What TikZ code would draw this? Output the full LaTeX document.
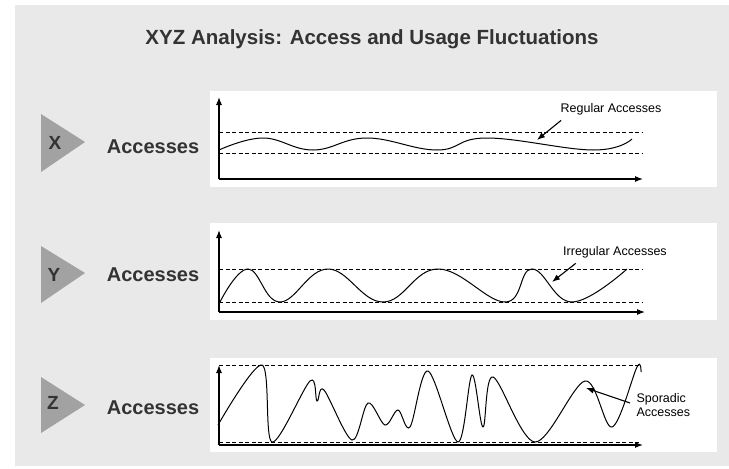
\documentclass[tikz,border=0pt]{standalone}
\usepackage{fontspec}
\setmainfont{Liberation Sans}
\usetikzlibrary{arrows.meta}
\definecolor{panelgrey}{HTML}{E9E9E9}
\definecolor{trigrey}{HTML}{A2A2A2}
\definecolor{textgrey}{HTML}{333333}
\begin{document}
\begin{tikzpicture}[x=1pt,y=-1pt,
    axis/.style={line width=1.1pt,-{Latex[length=8pt,width=6pt]}},
    level/.style={line width=0.9pt,dash pattern=on 4pt off 2.5pt},
    signal/.style={line width=1pt},
    note/.style={font=\fontsize{12.5}{14.5}\selectfont,align=left},
    pointer/.style={line width=1.1pt,-{Latex[length=8pt,width=6pt]}},
    letter/.style={font=\fontsize{19}{21}\selectfont\bfseries,text=textgrey},
    tag/.style={font=\fontsize{20}{22}\selectfont\bfseries,text=textgrey}]
      \useasboundingbox (0,0) rectangle (729,469);
      \fill[white] (0,0) rectangle (729,469);
      \fill[panelgrey] (15,5) rectangle (729,466);

      \node[font=\fontsize{20.5}{22}\selectfont\bfseries, text=textgrey] (title) at (372,39) {XYZ Analysis: Access and Usage Fluctuations};

      % row X
      \fill[trigrey] (41,114) -- (85,142) -- (41,172) -- cycle;
      \node[letter] (lx) at (55,143) {X};
      \node[tag] (ax) at (153,147) {Accesses};
      \fill[white] (210,91) rectangle (717,187);
      \coordinate (ox) at (219,179);
      \coordinate (upx) at (219,97);
      \coordinate (rtx) at (643,179);
      \draw[axis] (ox) -- (upx);
      \draw[axis] (ox) -- (rtx);
      \draw[level] (219,132) -- (642,132);
      \draw[level] (219,153) -- (642,153);
      \draw[signal] plot[smooth, tension=0.7] coordinates {(219,150) (263,138) (313,150) (367,138) (437,150) (487,138) (593,150) (632,139)};
      \node[note] (nx) at (611,109) {Regular Accesses};
      \coordinate (px) at (537,140);
      \draw[pointer] (nx.south west) ++(4,2) -- (px);

      % row Y
      \fill[trigrey] (41,246) -- (85,273) -- (41,303) -- cycle;
      \node[letter] (ly) at (54,275) {Y};
      \node[tag] (ay) at (153,275) {Accesses};
      \fill[white] (210,223) rectangle (717,320);
      \coordinate (oy) at (219,312);
      \coordinate (upy) at (219,230);
      \coordinate (rty) at (645,312);
      \draw[axis] (oy) -- (upy);
      \draw[axis] (oy) -- (rty);
      \draw[level] (219,269) -- (642,269);
      \draw[level] (219,302) -- (642,302);
      \draw[signal] plot[smooth, tension=0.7] coordinates {(220,302) (248,269) (280,302) (328,269) (383,302) (438,269) (505,302) (532,269) (572,302) (627,269)};
      \node[note] (ny) at (615,252) {Irregular Accesses};
      \coordinate (py) at (552,282);
      \draw[pointer] (ny.south west) ++(16,2) -- (py);

      % row Z
      \fill[trigrey] (41,377) -- (85,405) -- (41,433) -- cycle;
      \node[letter] (lz) at (53,403) {Z};
      \node[tag] (az) at (153,408) {Accesses};
      \fill[white] (210,358) rectangle (717,452);
      \coordinate (oz) at (219,445);
      \coordinate (upz) at (219,365);
      \coordinate (rtz) at (643,445);
      \draw[axis] (oz) -- (upz);
      \draw[axis] (oz) -- (rtz);
      \draw[level] (219,365) -- (640,365);
      \draw[level] (219,442) -- (640,442);
      \draw[signal] plot[smooth, tension=0.55] coordinates {(218,425) (262,365) (272,442) (310,381) (317,401) (324,390) (352,440) (368,403) (385,425) (398,410) (410,427) (428,371) (458,442) (472,375) (483,427) (493,377) (535,442) (585,381) (612,427) (637,367) (641,372)};
      \node[note, anchor=west] (nz) at (633,405) {Sporadic\\Accesses};
      \coordinate (pz) at (586,388);
      \draw[pointer] (nz.west) ++(-3,-2) -- (pz);
\end{tikzpicture}
\end{document}
